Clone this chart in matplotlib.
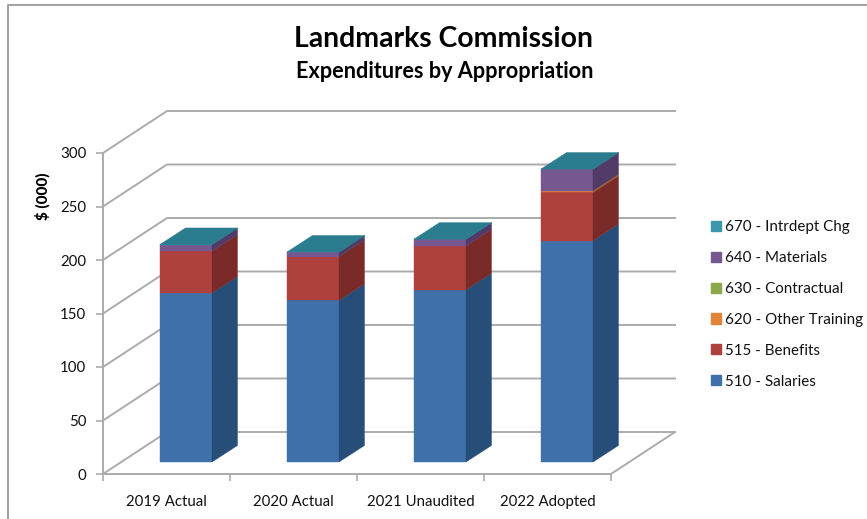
import numpy as np
import matplotlib
matplotlib.use("Agg")
import matplotlib.pyplot as plt
from matplotlib.patches import Polygon, Patch

plt.rcParams['font.family'] = ['Lato', 'DejaVu Sans']

categories = ["2019 Actual", "2020 Actual", "2021 Unaudited", "2022 Adopted"]
series_names = ["510 - Salaries", "515 - Benefits", "620 - Other Training",
                "630 - Contractual", "640 - Materials", "670 - Intrdept Chg"]
salaries = [158, 151, 161, 207]
benefits = [39, 41, 41, 45]
other_training = [0, 0, 0, 1.5]
contractual = [0, 0, 0, 0]
materials = [6, 4, 6, 20]
intrdept = [0.3, 0.3, 0.3, 0.3]
y_ticks = [0, 50, 100, 150, 200, 250, 300]

front_colors = ["#3F70A9", "#AE413D", "#E0843A", "#8CA84A", "#77578F", "#3A95AD"]
side_colors = ["#264E78", "#7A2B29", "#A05E28", "#637834", "#513A68", "#27687A"]
top_color = "#2B7C8E"
grid_color = "#ABABAB"

W, H = 867, 519
fig = plt.figure(figsize=(W / 100, H / 100), dpi=100)
# front plane of the fake 3d box
left, right, top, bottom = 103, 611, 153, 474
ax = fig.add_axes([left / W, 1 - bottom / H, (right - left) / W, (bottom - top) / H])
ax.set_xlim(0, 4)
ax.set_ylim(0, 300)
ax.patch.set_visible(False)

ux = (right - left) / 4      # px per category
uy = (bottom - top) / 300    # px per $ (000)

# walls and floor
wall_dx, wall_dy = 64 / ux, 42 / uy
for v in y_ticks:
    ax.plot([0, wall_dx, 4 + wall_dx], [v, v + wall_dy, v + wall_dy], color=grid_color,
            lw=1.4, clip_on=False, zorder=1)
ax.plot([4, 4 + wall_dx], [0, wall_dy], color=grid_color, lw=1.4, clip_on=False, zorder=1)

# stacked boxes
bar_w = 52 / ux
bar_dx, bar_dy = 25.5 / ux, 16.5 / uy
shift_x, shift_y = 19.5 / ux, 12 / uy
stacks = [salaries, benefits, other_training, contractual, materials, intrdept]
base = np.zeros(len(categories))
for vals, fc, sc in zip(stacks, front_colors, side_colors):
    vals = np.array(vals, dtype=float)
    for i in range(len(categories)):
        if vals[i] == 0:
            continue
        x0 = i + 0.5 - bar_w / 2 + shift_x
        x1 = x0 + bar_w
        y0 = base[i] + shift_y
        y1 = y0 + vals[i]
        ax.add_patch(Polygon([(x0, y0), (x1, y0), (x1, y1), (x0, y1)], fc=fc, ec=fc, lw=0.3,
                             clip_on=False, zorder=3))
        ax.add_patch(Polygon([(x1, y0), (x1 + bar_dx, y0 + bar_dy), (x1 + bar_dx, y1 + bar_dy), (x1, y1)],
                             fc=sc, ec=sc, lw=0.3, clip_on=False, zorder=3))
    base += vals
for i in range(len(categories)):
    x0 = i + 0.5 - bar_w / 2 + shift_x
    x1 = x0 + bar_w
    y1 = base[i] + shift_y
    ax.add_patch(Polygon([(x0, y1), (x1, y1), (x1 + bar_dx, y1 + bar_dy), (x0 + bar_dx, y1 + bar_dy)],
                         fc=top_color, ec=top_color, lw=0.3, clip_on=False, zorder=4))

# axes
for s in ["top", "right"]:
    ax.spines[s].set_visible(False)
for s in ["left", "bottom"]:
    ax.spines[s].set_color(grid_color)
    ax.spines[s].set_linewidth(1.4)
ax.set_yticks(y_ticks)
ax.set_xticks(range(5))
ax.set_xticklabels([])
ax.set_xticks(np.arange(4) + 0.5, minor=True)
ax.set_xticklabels(categories, minor=True)
ax.tick_params(axis="x", which="major", length=5, color=grid_color, width=1.2)
ax.tick_params(axis="x", which="minor", length=0, pad=15, labelsize=10.8, labelcolor="#111111")
ax.tick_params(axis="y", length=5, color=grid_color, width=1.2, pad=7, labelsize=10.8, labelcolor="#111111")
ax.set_ylabel("$ (000)", fontsize=11, fontweight=900, color="black")
ax.yaxis.set_label_coords((51 - left) / (right - left), (bottom - 196) / (bottom - top))

fig.text(443 / W, 1 - 39 / H, "Landmarks Commission", ha="center", va="center",
         fontsize=20.4, fontweight="bold", color="black")
fig.text(444.5 / W, 1 - 72 / H, "Expenditures by Appropriation", ha="center", va="center",
         fontsize=15.6, fontweight="bold", color="black")

handles = [Patch(fc=c, ec=c) for c in front_colors][::-1]
fig.legend(handles, series_names[::-1], loc="center left", bbox_to_anchor=(711 / W, 1 - 304.5 / H),
           frameon=False, fontsize=10.9, handlelength=0.66, handleheight=0.66, handletextpad=0.25,
           labelspacing=1.11, labelcolor="#111111", borderpad=0, borderaxespad=0)

# chart frame
fig.add_artist(plt.Line2D([8 / W, 8 / W, 1], [0, 1 - 5 / H, 1 - 5 / H], color="#A0A0A0", lw=1.4))

fig.savefig("out.png", dpi=100)
